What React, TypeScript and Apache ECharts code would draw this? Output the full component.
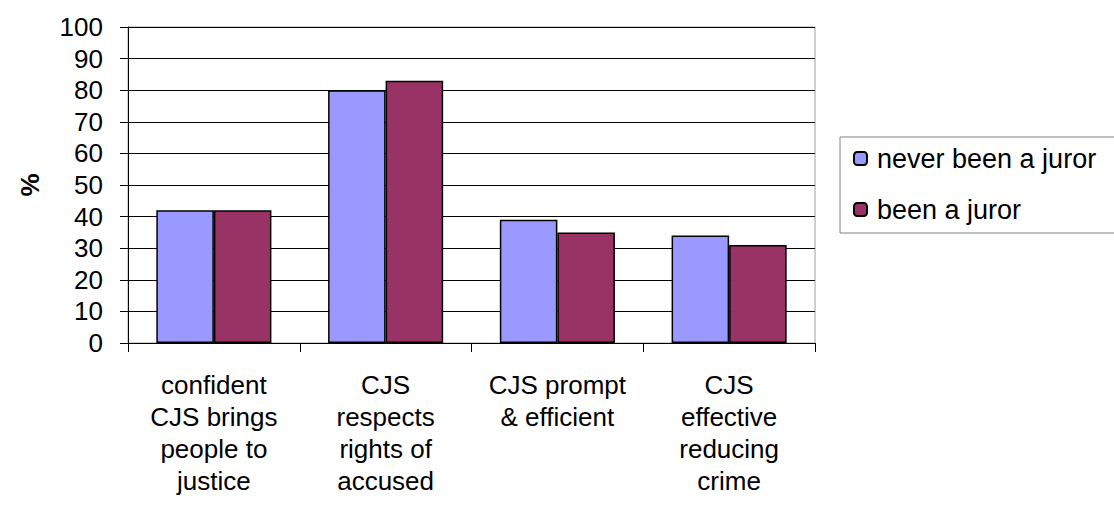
import React, { useEffect, useRef } from "react";
import * as echarts from "echarts";

const categories = [
  "confident\nCJS brings\npeople to\njustice",
  "CJS\nrespects\nrights of\naccused",
  "CJS prompt\n& efficient",
  "CJS\neffective\nreducing\ncrime",
];
const neverJuror = [42, 80, 39, 34];
const beenJuror = [42, 83, 35, 31];
const seriesNames = ["never been a juror", "been a juror"];
const yTicks = { min: 0, max: 100, interval: 10 };

const FONT = "'Liberation Sans', Arial, sans-serif";

export default function App() {
  const ref = useRef<HTMLDivElement>(null);
  useEffect(() => {
    if (!ref.current) return;
    const chart = echarts.init(ref.current, undefined, { renderer: "svg" });
    chart.setOption({
      animation: false,
      backgroundColor: "#ffffff",
      textStyle: { fontFamily: FONT },
      grid: {
        left: 128,
        right: 299,
        top: 27,
        bottom: 173,
        show: true,
        borderColor: "#a0a0a0",
        borderWidth: 1,
      },
      graphic: [
        {
          type: "rect",
          shape: { x: 840, y: 137, width: 300, height: 96 },
          style: { fill: "none", stroke: "#808080", lineWidth: 1 },
        },
      ],
      legend: {
        orient: "vertical",
        left: 853,
        top: 145,
        itemWidth: 13,
        itemHeight: 13,
        itemGap: 24,
        padding: 0,
        textStyle: {
          fontSize: 27,
          color: "#000",
          fontFamily: FONT,
          padding: [0, 0, 0, 5],
        },
        data: seriesNames,
      },
      xAxis: {
        type: "category",
        data: categories,
        axisLine: { lineStyle: { color: "#000", width: 1 } },
        axisTick: { show: true, length: 9, lineStyle: { color: "#000" } },
        axisLabel: {
          color: "#000",
          fontSize: 26,
          lineHeight: 32,
          margin: 26,
          interval: 0,
          fontFamily: FONT,
        },
      },
      yAxis: {
        type: "value",
        min: yTicks.min,
        max: yTicks.max,
        interval: yTicks.interval,
        name: "%",
        nameLocation: "middle",
        nameRotate: 90,
        nameGap: 85,
        nameTextStyle: { fontSize: 26, fontWeight: "bold", color: "#000", fontFamily: FONT },
        axisLine: { show: true, lineStyle: { color: "#000", width: 1 } },
        axisTick: { show: true, length: 8, lineStyle: { color: "#000" } },
        axisLabel: { color: "#000", fontSize: 26, margin: 25, fontFamily: FONT },
        splitLine: { show: true, lineStyle: { color: "#000", width: 1 } },
      },
      series: [
        {
          name: seriesNames[0],
          type: "bar",
          data: neverJuror,
          barGap: "0%",
          barCategoryGap: "33%",
          itemStyle: { color: "#9999FF", borderColor: "#000", borderWidth: 1.5 },
        },
        {
          name: seriesNames[1],
          type: "bar",
          data: beenJuror,
          barGap: "0%",
          barCategoryGap: "33%",
          itemStyle: { color: "#993366", borderColor: "#000", borderWidth: 1.5 },
        },
      ],
    });
    return () => chart.dispose();
  }, []);
  return (
    <div
      ref={ref}
      style={{ position: "fixed", left: 0, top: 0, width: 1114, height: 516 }}
    />
  );
}
